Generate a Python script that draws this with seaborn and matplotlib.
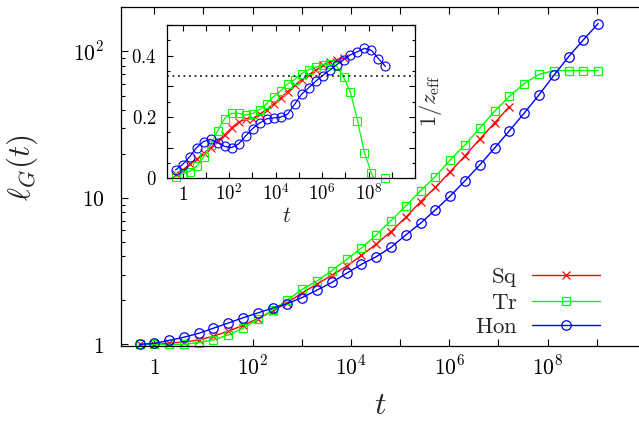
import numpy as np
import matplotlib
matplotlib.use("Agg")
import matplotlib.pyplot as plt
import seaborn as sns
from matplotlib.ticker import FixedLocator, NullLocator, NullFormatter

# ---------------------------------------------------------------- data
# sampling times t = 2^k
k_main = np.arange(-1, 31)
t_main = 2.0 ** k_main

# growth length l_G(t) for each lattice
hon_len = [1.00, 1.016, 1.065, 1.12, 1.19, 1.29, 1.40, 1.52, 1.64, 1.77,
           1.90, 2.09, 2.35, 2.65, 3.06, 3.52, 3.97, 4.60, 5.59, 6.72,
           8.28, 10.3, 13.1, 16.8, 21.9, 28.7, 37.9, 50.5, 68.5, 92.0,
           120.0, 155.0]
sq_len = [1.00, 1.00, 1.02, 1.04, 1.07, 1.14, 1.23, 1.35, 1.50, 1.69,
          1.93, 2.25, 2.58, 2.97, 3.42, 4.05, 4.85, 5.89, 7.38, 9.43,
          11.8, 15.1, 19.4, 25.2, 32.5, 42.0]
tr_len = [1.00, 1.00, 1.00, 1.00, 1.03, 1.075, 1.16, 1.29, 1.48, 1.72,
          2.01, 2.38, 2.71, 3.19, 3.81, 4.55, 5.59, 7.00, 8.81, 11.2,
          14.0, 18.2, 23.0, 30.0, 39.0, 49.3, 60.3, 69.7, 73.9, 74.0,
          74.0, 74.0]

# effective exponent 1/z_eff
hon_inv_z = [0.027, 0.045, 0.070, 0.100, 0.120, 0.127, 0.116, 0.104, 0.100,
             0.112, 0.138, 0.162, 0.180, 0.194, 0.197, 0.199, 0.209, 0.241,
             0.274, 0.295, 0.316, 0.335, 0.352, 0.370, 0.387, 0.403, 0.413,
             0.424, 0.417, 0.390, 0.365]
sq_inv_z = [0.014, 0.027, 0.046, 0.062, 0.081, 0.099, 0.122, 0.141, 0.165,
            0.184, 0.192, 0.195, 0.209, 0.224, 0.243, 0.262, 0.283, 0.303,
            0.321, 0.338, 0.352, 0.368, 0.379, 0.387, 0.392]
tr_inv_z = [0.005, 0.015, 0.022, 0.040, 0.069, 0.110, 0.154, 0.195, 0.212,
            0.212, 0.206, 0.211, 0.224, 0.243, 0.266, 0.285, 0.307, 0.322,
            0.341, 0.354, 0.362, 0.371, 0.372, 0.366, 0.331, 0.280, 0.188,
            0.083, 0.016, -0.03, 0.0]
mean_field = 1.0 / 3.0

labels = ["Sq", "Tr", "Hon"]
x_ticks_main = [1e0, 1e1, 1e2, 1e3, 1e4, 1e5, 1e6, 1e7, 1e8, 1e9, 1e10]
x_labels_main = ["$1$", "", "$10^{2}$", "", "$10^{4}$", "", "$10^{6}$", "",
                 "$10^{8}$", "", ""]
y_ticks_main = [1, 10, 100]
y_labels_main = ["$1$", "$10$", "$10^{2}$"]
y_ticks_inset = [0.0, 0.1, 0.2, 0.3, 0.4, 0.5]
y_labels_inset = ["$0$", "", "$0.2$", "", "$0.4$", ""]

# ---------------------------------------------------------------- style
sns.set_theme(style="ticks")
plt.rcParams.update({
    "mathtext.fontset": "cm",
    "font.family": ["DejaVu Serif"],
    "axes.linewidth": 0.9,
    "axes.edgecolor": "black",
    "xtick.color": "black",
    "ytick.color": "black",
})

RED, GREEN, BLUE = "#ff0000", "#00ff00", "#0000ff"
styles = {
    "Sq": dict(color=RED, marker="x", ms=6.0),
    "Tr": dict(color=GREEN, marker="s", ms=6.0),
    "Hon": dict(color=BLUE, marker="o", ms=6.8),
}

W, H = 639, 422
fig = plt.figure(figsize=(W / 100, H / 100), dpi=100)


def fig_rect(left, top, right, bottom):
    return [left / W, (H - bottom) / H, (right - left) / W, (bottom - top) / H]


# ---------------------------------------------------------------- main panel
ax = fig.add_axes(fig_rect(121, 7.3, 645.8, 345.7))
ax.set_xscale("log")
ax.set_yscale("log")

main_series = [("Sq", sq_len), ("Tr", tr_len), ("Hon", hon_len)]
for name, vals in main_series:
    st = styles[name]
    tt = t_main[:len(vals)]
    sns.lineplot(x=tt, y=vals, ax=ax, color=st["color"], lw=1.0,
                 marker=st["marker"], markersize=st["ms"],
                 markerfacecolor="none", markeredgecolor=st["color"],
                 markeredgewidth=0.9, label=r"$\mathrm{%s}$" % name,
                 estimator=None, sort=False, clip_on=False, legend=False)

ax.set_xlim(0.21, 1e10)
ax.set_ylim(0.98, 200)

ax.set_xticks(x_ticks_main, x_labels_main, va="baseline")
ax.xaxis.set_minor_locator(NullLocator())
ax.set_yticks(y_ticks_main, y_labels_main, va="center_baseline")
ax.yaxis.set_minor_locator(FixedLocator(
    [m * d for d in (1, 10, 100) for m in range(2, 10) if m * d <= 200]))
ax.yaxis.set_minor_formatter(NullFormatter())
ax.tick_params(which="both", direction="in", top=True, right=True,
               width=0.8, colors="black")
ax.tick_params(which="major", length=5)
ax.tick_params(which="minor", length=3)
ax.tick_params(axis="x", which="major", labelsize=15.5, pad=20.6)
ax.tick_params(axis="y", which="major", labelsize=15.5, pad=12)
for sp in ax.spines.values():
    sp.set_color("black")

fig.text(380 / W, 1 - 405 / H, "$t$", fontsize=23, ha="center", va="center")
fig.text(22 / W, 1 - 168 / H, r"$\ell_G(t)$", fontsize=22.5, rotation=90,
         ha="center", va="center")

ax.legend(loc="lower right", bbox_to_anchor=(600 / W, 1 - 338 / H),
          bbox_transform=fig.transFigure, markerfirst=False, frameon=False,
          fontsize=16.5, handlelength=2.95, handletextpad=0.65,
          labelspacing=0.1, borderpad=0, borderaxespad=0)

# ---------------------------------------------------------------- inset
ax_in = fig.add_axes(fig_rect(167.3, 25, 415, 178.3))
ax_in.set_facecolor("white")
ax_in.set_xscale("log")

inset_series = [("Sq", sq_inv_z), ("Tr", tr_inv_z), ("Hon", hon_inv_z)]
for name, vals in inset_series:
    st = styles[name]
    tt = t_main[:len(vals)]
    sns.lineplot(x=tt, y=vals, ax=ax_in, color=st["color"], lw=0.9,
                 estimator=None, sort=False, legend=False)
    shown = [i for i, v in enumerate(vals) if 0.0 <= v <= 0.5]
    sns.lineplot(x=tt, y=vals, ax=ax_in, color=st["color"], linestyle="none",
                 marker=st["marker"], markersize=st["ms"] * 0.95,
                 markerfacecolor="none", markeredgecolor=st["color"],
                 markeredgewidth=0.8, markevery=shown, clip_on=False,
                 estimator=None, sort=False, legend=False)

ax_in.axhline(mean_field, color="black", lw=1.1, ls=(0, (1.2, 2.4)))
ax_in.set_xlim(0.22, 1e10)
ax_in.set_ylim(0.0, 0.5)
ax_in.set_xticks(x_ticks_main, x_labels_main, va="baseline")
ax_in.xaxis.set_minor_locator(NullLocator())
ax_in.set_yticks(y_ticks_inset, y_labels_inset, va="center_baseline")
ax_in.yaxis.set_minor_locator(FixedLocator([0.05, 0.15, 0.25, 0.35, 0.45]))
ax_in.tick_params(which="both", direction="in", top=True, right=True,
                  width=0.8, colors="black")
ax_in.tick_params(which="major", length=4.5)
ax_in.tick_params(which="minor", length=2.5)
ax_in.tick_params(axis="x", which="major", labelsize=13.5, pad=15.8)
ax_in.tick_params(axis="y", which="major", labelsize=13.5, pad=7.6)
for sp in ax_in.spines.values():
    sp.set_color("black")
ax_in.set_xlabel("")
ax_in.set_ylabel("")
ax.set_xlabel("")
ax.set_ylabel("")

fig.text(287 / W, 1 - 216 / H, "$t$", fontsize=15.5, ha="center", va="center")
fig.text(430 / W, 1 - 101 / H, r"$1/z_{\mathrm{eff}}$", fontsize=16,
         rotation=90, ha="center", va="center")

fig.savefig("out.png", dpi=100)
